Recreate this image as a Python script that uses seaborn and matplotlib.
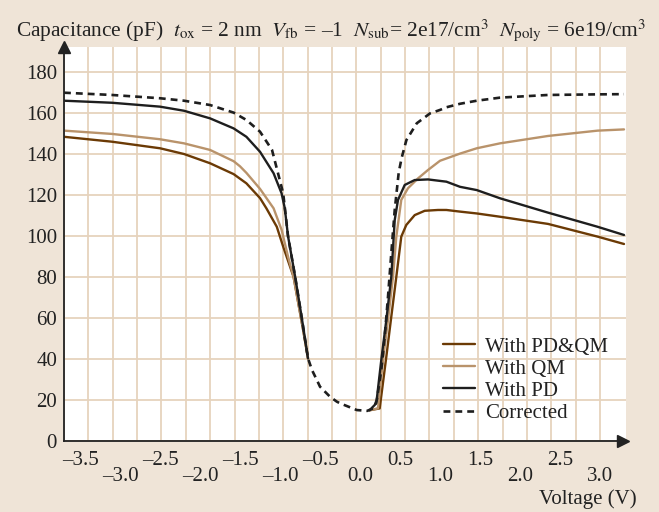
import numpy as np
import pandas as pd
import matplotlib
matplotlib.use("Agg")
import matplotlib.pyplot as plt
import seaborn as sns

# ---------------- data (voltage in V, capacitance in pF) ----------------
corr_v = [-3.7, -3.1, -2.5, -2.2, -1.875, -1.58, -1.42, -1.25, -1.1, -0.96, -0.9,
          -0.81, -0.73, -0.65, -0.6, -0.54, -0.5, -0.375, -0.29, -0.25, -0.04, 0.09,
          0.17, 0.21, 0.266, 0.309, 0.35, 0.391, 0.434, 0.484, 0.52, 0.58, 0.71,
          0.875, 1.0, 1.08, 1.25, 1.46, 1.75, 2.35, 2.97, 3.3]
corr_c = [169.9, 168.8, 167.2, 166.0, 163.9, 160.2, 156.6, 150.9, 142.0, 120.8, 100.0,
          80.0, 60.6, 40.3, 34.6, 29.8, 26.5, 21.6, 19.2, 18.4, 15.1, 14.7,
          16.0, 20.0, 34.6, 50.9, 70.4, 91.5, 112.7, 131.0, 138.0, 146.8, 155.0,
          159.8, 161.5, 162.8, 164.5, 166.0, 167.5, 168.8, 169.1, 169.2]

pd_v_left = [-3.7, -3.1, -2.5, -2.2, -1.875, -1.58, -1.42, -1.25, -1.08, -0.98, -0.94,
             -0.9, -0.81, -0.73, -0.65]
pd_c_left = [166.0, 165.0, 163.1, 161.1, 157.4, 152.5, 148.4, 141.1, 130.6, 120.8, 113.5,
             100.0, 80.0, 60.6, 40.3]
pd_v_right = [0.12, 0.204, 0.266, 0.329, 0.391, 0.434, 0.475, 0.559, 0.684, 0.85, 0.975,
              1.08, 1.25, 1.46, 1.75, 2.35, 2.97, 3.3]
pd_c_right = [15.0, 18.4, 39.5, 59.0, 80.1, 107.8, 117.6, 124.9, 127.3, 127.6, 127.0,
              126.5, 124.0, 122.4, 118.4, 111.4, 104.5, 100.5]

qm_v_left = [-3.7, -3.1, -2.5, -2.2, -1.875, -1.58, -1.5, -1.42, -1.25, -1.08, -0.98,
             -0.9, -0.83, -0.77, -0.71, -0.65]
qm_c_left = [151.4, 149.8, 147.2, 145.2, 142.0, 136.5, 134.0, 130.8, 123.0, 113.5, 103.0,
             90.0, 80.0, 67.0, 54.0, 40.3]
qm_v_right = [0.12, 0.225, 0.2875, 0.35, 0.4125, 0.454, 0.516, 0.6, 0.725, 0.85, 1.0,
              1.25, 1.46, 1.75, 2.35, 2.97, 3.3]
qm_c_right = [15.0, 15.9, 39.5, 59.0, 80.1, 99.7, 117.6, 123.3, 128.1, 132.2, 136.7,
              140.2, 142.8, 145.2, 148.8, 151.4, 152.0]

pdqm_v_left = [-3.7, -3.1, -2.5, -2.2, -1.875, -1.58, -1.42, -1.25, -1.17, -1.04, -0.96,
               -0.9, -0.83, -0.77, -0.71, -0.65]
pdqm_c_left = [148.4, 146.0, 142.8, 140.0, 135.5, 130.2, 125.7, 118.5, 113.5, 104.5, 94.8,
               88.0, 80.0, 67.0, 54.0, 40.3]
pdqm_v_right = [0.12, 0.246, 0.329, 0.391, 0.454, 0.516, 0.579, 0.684, 0.809, 0.975, 1.08,
                1.25, 1.46, 1.75, 2.35, 2.97, 3.3]
pdqm_c_right = [15.0, 15.9, 41.1, 60.6, 80.1, 99.7, 105.4, 110.2, 112.3, 112.7, 112.7,
                111.9, 111.0, 109.4, 105.9, 99.7, 96.1]

labels = ["With PD&QM", "With QM", "With PD", "Corrected"]
x_upper_ticks = [-3.5, -2.5, -1.5, -0.5, 0.5, 1.5, 2.5]
x_lower_ticks = [-3.0, -2.0, -1.0, 0.0, 1.0, 2.0, 3.0]
y_ticks = [0, 20, 40, 60, 80, 100, 120, 140, 160, 180]

# ---------------- style ----------------
BG = "#efe4d7"
GRID = "#e6d3bd"
C_PDQM = "#6b3a05"
C_QM = "#b9936b"
C_PD = "#1e1e1e"
C_CORR = "#1e1e1e"
FS = 15

sns.set_style("white")
plt.rcParams["font.family"] = ["Liberation Serif", "DejaVu Serif"]
plt.rcParams["mathtext.fontset"] = "stix"

fig = plt.figure(figsize=(6.59, 5.12), dpi=100, facecolor=BG)
ax = fig.add_axes([64 / 659, 1 - 441 / 512, 562 / 659, 394 / 512])
ax.set_facecolor("white")
ax.set_xlim(-3.7, 3.325)
ax.set_ylim(0, 192.2)

# grid
ax.set_yticks(y_ticks)
ax.set_yticklabels([str(t) for t in y_ticks])
ax.grid(axis="y", color=GRID, lw=1.3, zorder=0.5)
ax.vlines(np.linspace(-3.7, 3.0, 23), 0, 192.2, color=GRID, lw=1.3, zorder=0.5)
ax.set_axisbelow(True)


def draw(v, c, color, label=None, ls="-", lw=1.7, z=2):
    df = pd.DataFrame({"V": v, "C": c})
    kw = dict(data=df, x="V", y="C", ax=ax, color=color, lw=lw, sort=False,
              estimator=None, linestyle=ls, zorder=z)
    if label is not None:
        kw["label"] = label
    sns.lineplot(**kw)


dash = (0, (2.6, 1.9))
draw(pdqm_v_left, pdqm_c_left, C_PDQM, labels[0], z=2)
draw(pdqm_v_right, pdqm_c_right, C_PDQM, z=2)
draw(qm_v_left, qm_c_left, C_QM, labels[1], z=2.1)
draw(qm_v_right, qm_c_right, C_QM, z=2.1)
draw(pd_v_left, pd_c_left, C_PD, labels[2], z=2.2)
draw(pd_v_right, pd_c_right, C_PD, z=2.2)
draw(corr_v, corr_c, C_CORR, labels[3], ls=dash, lw=1.9, z=2.3)

# axes / ticks
for s in ["top", "right"]:
    ax.spines[s].set_visible(False)
for s in ["left", "bottom"]:
    ax.spines[s].set_color("#222222")
    ax.spines[s].set_linewidth(1.3)
    ax.spines[s].set_zorder(3)
ax.plot([0.995], [0], marker=">", ms=9, color="#222222", transform=ax.transAxes,
        clip_on=False, zorder=4)
ax.plot([0], [1], marker="^", ms=9, color="#222222", transform=ax.transAxes,
        clip_on=False, zorder=4)

ax.set_xticks(x_upper_ticks)
ax.set_xticklabels([f"{t:.1f}".replace("-", "–") for t in x_upper_ticks])
ax.set_xticks(x_lower_ticks, minor=True)
ax.set_xticklabels([f"{t:.1f}".replace("-", "–") for t in x_lower_ticks], minor=True)
ax.tick_params(axis="x", which="major", length=0, pad=7, labelsize=FS, colors="#222222")
ax.tick_params(axis="x", which="minor", length=0, pad=18.5, labelsize=FS, colors="#222222")
ax.tick_params(axis="y", length=0, pad=5, labelsize=FS, colors="#222222")
ax.set_xlabel("")
ax.set_ylabel("")

leg = ax.legend(loc="upper left", bbox_to_anchor=((443 - 64) / 562, (441 - 337) / 394),
                frameon=False, fontsize=FS, handlelength=1.55, handletextpad=0.45,
                labelspacing=0.12, borderpad=0, borderaxespad=0)
for t in leg.get_texts():
    t.set_color("#222222")

fig.text(637 / 659, 1 - 499 / 512, "Voltage (V)", ha="right", va="center",
         fontsize=FS, color="#222222")
fig.text(16 / 659, 1 - 36 / 512,
         r"Capacitance (pF)  $t_{\mathrm{ox}}$ = 2 nm  $V_{\mathrm{fb}}$ = –1  "
         r"$N_{\mathrm{sub}}$= 2e17/cm$^3$  $N_{\mathrm{poly}}$ = 6e19/cm$^3$",
         ha="left", va="baseline", fontsize=15.4, color="#222222")

fig.savefig("out.png", dpi=100, facecolor=BG)
